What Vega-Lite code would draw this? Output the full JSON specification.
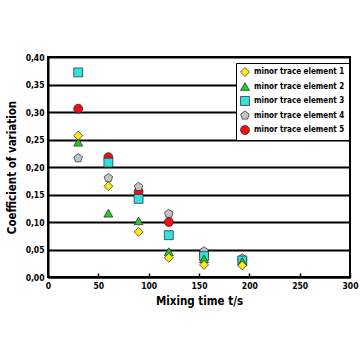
{
  "$schema": "https://vega.github.io/schema/vega-lite/v6.json",
  "width": 302,
  "height": 220,
  "autosize": "none",
  "padding": {"left": 48, "top": 57, "right": 10, "bottom": 83},
  "background": "white",
  "config": {
    "font": "DejaVu Sans Condensed, Liberation Sans, Arial",
    "view": {"stroke": "black", "strokeWidth": 2},
    "axis": {
      "labelFont": "DejaVu Sans Condensed, Liberation Sans, Arial",
      "titleFont": "DejaVu Sans Condensed, Liberation Sans, Arial",
      "labelColor": "black",
      "titleColor": "black",
      "labelFontWeight": "bold",
      "labelFontSize": 8.5,
      "titleFontSize": 11.5,
      "titleFontWeight": "bold",
      "domainColor": "black",
      "domainWidth": 2
    },
    "legend": {
      "labelFont": "DejaVu Sans Condensed, Liberation Sans, Arial",
      "labelFontWeight": "bold",
      "labelFontSize": 8,
      "labelColor": "black",
      "labelLimit": 200
    }
  },
  "data": {
    "values": [
      {"t": 30, "cv": 0.306, "series": "minor trace element 5"},
      {"t": 60, "cv": 0.218, "series": "minor trace element 5"},
      {"t": 90, "cv": 0.155, "series": "minor trace element 5"},
      {"t": 120, "cv": 0.100, "series": "minor trace element 5"},
      {"t": 155, "cv": 0.044, "series": "minor trace element 5"},
      {"t": 193, "cv": 0.031, "series": "minor trace element 5"},
      {"t": 30, "cv": 0.216, "series": "minor trace element 4"},
      {"t": 60, "cv": 0.180, "series": "minor trace element 4"},
      {"t": 90, "cv": 0.164, "series": "minor trace element 4"},
      {"t": 120, "cv": 0.115, "series": "minor trace element 4"},
      {"t": 155, "cv": 0.047, "series": "minor trace element 4"},
      {"t": 193, "cv": 0.034, "series": "minor trace element 4"},
      {"t": 30, "cv": 0.372, "series": "minor trace element 3"},
      {"t": 60, "cv": 0.208, "series": "minor trace element 3"},
      {"t": 90, "cv": 0.142, "series": "minor trace element 3"},
      {"t": 120, "cv": 0.076, "series": "minor trace element 3"},
      {"t": 155, "cv": 0.038, "series": "minor trace element 3"},
      {"t": 193, "cv": 0.030, "series": "minor trace element 3"},
      {"t": 30, "cv": 0.245, "series": "minor trace element 2"},
      {"t": 60, "cv": 0.116, "series": "minor trace element 2"},
      {"t": 90, "cv": 0.102, "series": "minor trace element 2"},
      {"t": 120, "cv": 0.046, "series": "minor trace element 2"},
      {"t": 155, "cv": 0.033, "series": "minor trace element 2"},
      {"t": 193, "cv": 0.028, "series": "minor trace element 2"},
      {"t": 30, "cv": 0.257, "series": "minor trace element 1"},
      {"t": 60, "cv": 0.165, "series": "minor trace element 1"},
      {"t": 90, "cv": 0.082, "series": "minor trace element 1"},
      {"t": 120, "cv": 0.035, "series": "minor trace element 1"},
      {"t": 155, "cv": 0.022, "series": "minor trace element 1"},
      {"t": 193, "cv": 0.021, "series": "minor trace element 1"}
    ]
  },
  "mark": {"type": "point", "filled": true, "size": 80, "stroke": "#222222", "strokeWidth": 0.7, "opacity": 1},
  "encoding": {
    "x": {
      "field": "t", "type": "quantitative",
      "scale": {"domain": [0, 300], "nice": false},
      "axis": {"title": "Mixing time t/s", "values": [0, 50, 100, 150, 200, 250, 300], "grid": false, "tickSize": -4, "tickColor": "black", "tickWidth": 1.5, "labelPadding": 8, "titlePadding": 6, "labelFlush": false}
    },
    "y": {
      "field": "cv", "type": "quantitative",
      "scale": {"domain": [0, 0.4], "nice": false},
      "axis": {"title": "Coefficient of variation", "values": [0, 0.05, 0.1, 0.15, 0.2, 0.25, 0.3, 0.35, 0.4], "labelExpr": "replace(format(datum.value, '.2f'), '.', ',')", "ticks": false, "grid": true, "gridColor": "black", "gridWidth": 2, "gridOpacity": 1, "labelPadding": 4, "titlePadding": 8, "labelFlush": false}
    },
    "color": {
      "field": "series", "type": "nominal",
      "scale": {
        "domain": ["minor trace element 1", "minor trace element 2", "minor trace element 3", "minor trace element 4", "minor trace element 5"],
        "range": ["#FFE81A", "#22CC22", "#33E0E0", "#C4C4C4", "#EE1111"]
      },
      "legend": {"title": null, "orient": "none", "legendX": 188, "legendY": 6, "strokeColor": "black", "fillColor": "white", "padding": 4, "rowPadding": 2.5, "symbolSize": 80, "symbolStrokeColor": "#222222", "symbolStrokeWidth": 0.7, "labelOffset": 4}
    },
    "shape": {
      "field": "series", "type": "nominal",
      "scale": {
        "domain": ["minor trace element 1", "minor trace element 2", "minor trace element 3", "minor trace element 4", "minor trace element 5"],
        "range": ["diamond", "triangle-up", "square", "M0,-1L0.95,-0.31L0.59,0.81L-0.59,0.81L-0.95,-0.31Z", "circle"]
      }
    }
  }
}
